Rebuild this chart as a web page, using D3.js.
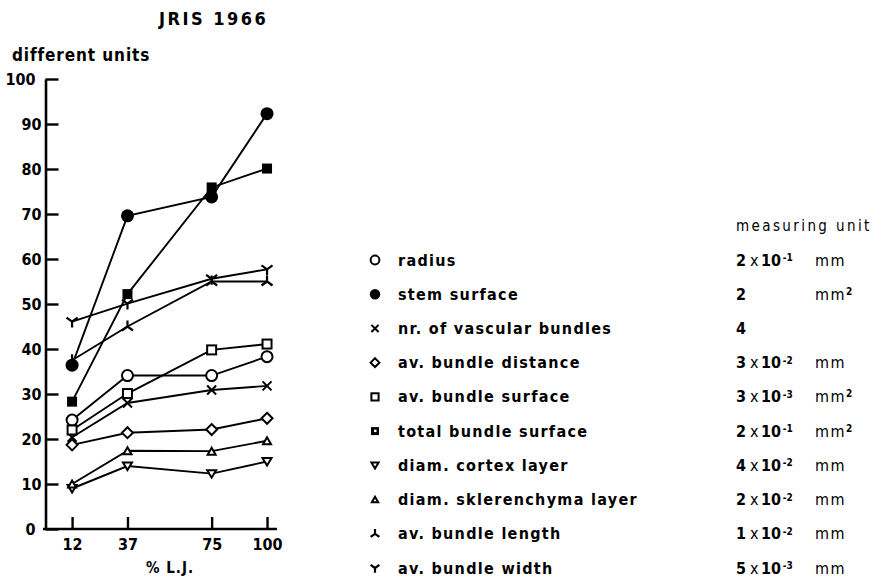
<!DOCTYPE html>
<html><head><meta charset="utf-8">
<script src="https://cdn.jsdelivr.net/npm/d3@7"></script>
<style>
body{margin:0;background:#fff;}
text{font-family:"DejaVu Sans Condensed","DejaVu Sans",sans-serif;fill:#000;}
</style></head>
<body><svg id="c" width="892" height="578"></svg>
<script>
const categories = [12, 37, 75, 100];
const xTicks = [12, 37, 75, 100];
const yTicks = [0, 10, 20, 30, 40, 50, 60, 70, 80, 90, 100];
const seriesNames = ["radius", "stem surface", "nr. of vascular bundles", "av. bundle distance",
  "av. bundle surface", "total bundle surface", "diam. cortex  layer", "diam. sklerenchyma layer",
  "av. bundle length", "av. bundle width"];
const seriesMarkers = ["circleOpen", "circleFilled", "cross", "diamond", "squareOpen", "squareFilled",
  "triDown", "triUp", "yInv", "yUp"];
const radius = [24.2, 34.1, 34.1, 38.3];
const stemSurface = [36.4, 69.6, 73.8, 92.3];
const nrVascular = [20.4, 28.0, 30.9, 31.8];
const bundleDistance = [18.7, 21.4, 22.1, 24.6];
const bundleSurface = [22.0, 30.1, 39.8, 41.1];
const totalBundleSurface = [28.3, 52.2, 75.9, 80.1];
const cortexLayer = [9.0, 14.0, 12.3, 15.0];
const sklerenchymaLayer = [10.0, 17.4, 17.3, 19.6];
const bundleLength = [37.5, 45.0, 55.0, 55.0];
const bundleWidth = [46.1, 50.1, 55.6, 57.7];
const seriesValues = [radius, stemSurface, nrVascular, bundleDistance, bundleSurface,
  totalBundleSurface, cortexLayer, sklerenchymaLayer, bundleLength, bundleWidth];
const unitCoef = ["2", "2", "4", "3", "3", "2", "4", "2", "1", "5"];
const unitExp = ["-1", "", "", "-2", "-3", "-1", "-2", "-2", "-2", "-3"];
const unitDim = ["mm", "mm", "", "mm", "mm", "mm", "mm", "mm", "mm", "mm"];
const unitDimExp = ["", "2", "", "", "2", "2", "", "", "", ""];

const svg = d3.select("#c");
const x = d3.scaleLinear().domain([0, 104.5]).range([45.5, 277]);
const y = d3.scaleLinear().domain([0, 100]).range([529, 79]);
const B = "bold", N = "normal";

// titles
svg.append("text").attr("x", 159).attr("y", 25).attr("font-size", 18).attr("letter-spacing", 2.5)
  .style("font-weight", B).text("JRIS  1966");
svg.append("text").attr("x", 12).attr("y", 61).attr("font-size", 17).attr("letter-spacing", 0.9)
  .style("font-weight", B).text("different units");

// y axis
const gy = svg.append("g").attr("transform", "translate(45.5,0)")
  .call(d3.axisLeft(y).tickValues(yTicks).tickSize(-13).tickSizeOuter(0).tickPadding(4));
gy.select(".domain").attr("stroke-width", 2.6);
gy.selectAll(".tick line").attr("stroke-width", 2.4);
gy.selectAll(".tick text").attr("font-size", 16).attr("font-family", null).style("font-weight", B)
  .attr("dx", d => (d === 0 || d === 100) ? -6 : 0);

// x axis
const gx = svg.append("g").attr("transform", "translate(0,529)")
  .call(d3.axisBottom(x).tickValues(xTicks).tickSize(-12).tickSizeOuter(0).tickPadding(10));
gx.select(".domain").attr("stroke-width", 2.6).attr("d", "M43,0H277");
gx.selectAll(".tick line").attr("stroke-width", 2.4);
gx.selectAll(".tick text").attr("font-size", 16).attr("font-family", null).style("font-weight", B);
svg.append("text").attr("x", 170).attr("y", 573).attr("text-anchor", "middle").attr("font-size", 15)
  .attr("letter-spacing", 1).style("font-weight", B).text("%  L.J.");

// marker drawer
function marker(g, type, s) {
  const sw = 2;
  switch (type) {
    case "circleOpen": g.append("circle").attr("r", 5.5 * s).attr("fill", "#fff").attr("stroke", "#000").attr("stroke-width", sw); break;
    case "circleFilled": g.append("circle").attr("r", 6.5 * s).attr("fill", "#000"); break;
    case "cross": g.append("path").attr("d", `M${-4.5*s},${-4.5*s}L${4.5*s},${4.5*s}M${-4.5*s},${4.5*s}L${4.5*s},${-4.5*s}`).attr("stroke", "#000").attr("stroke-width", sw).attr("fill", "none"); break;
    case "diamond": g.append("path").attr("d", `M0,${-5.5*s}L${5.5*s},0L0,${5.5*s}L${-5.5*s},0Z`).attr("fill", "#fff").attr("stroke", "#000").attr("stroke-width", sw); break;
    case "squareOpen": g.append("rect").attr("x", -4.5*s).attr("y", -4.5*s).attr("width", 9*s).attr("height", 9*s).attr("fill", "#fff").attr("stroke", "#000").attr("stroke-width", sw); break;
    case "squareFilled":
      g.append("rect").attr("x", -5*s).attr("y", -5*s).attr("width", 10*s).attr("height", 10*s).attr("fill", "#000");
      if (s < 1) g.append("rect").attr("x", -1).attr("y", -1.5).attr("width", 2.5).attr("height", 2.5).attr("fill", "#fff");
      break;
    case "triDown": g.append("path").attr("d", `M${-4.5*s},${-3.5*s}L${4.5*s},${-3.5*s}L0,${4*s}Z`).attr("fill", "#fff").attr("stroke", "#000").attr("stroke-width", sw); break;
    case "triUp": g.append("path").attr("d", `M${-4*s},${3.5*s}L${4*s},${3.5*s}L0,${-3.5*s}Z`).attr("fill", "#fff").attr("stroke", "#000").attr("stroke-width", sw); break;
    case "yInv": g.append("path").attr("d", `M0,${-6*s}L0,0M0,0L${-5.5*s},${4*s}M0,0L${5.5*s},${4*s}`).attr("stroke", "#000").attr("stroke-width", 2.2).attr("fill", "none"); break;
    case "yUp": g.append("path").attr("d", `M0,${6*s}L0,0M0,0L${-5.5*s},${-4*s}M0,0L${5.5*s},${-4*s}`).attr("stroke", "#000").attr("stroke-width", 2.2).attr("fill", "none"); break;
  }
}

// lines
const line = d3.line().x((d, i) => x(categories[i])).y(d => y(d));
svg.append("g").selectAll("path").data(seriesValues).join("path")
  .attr("d", line).attr("fill", "none").attr("stroke", "#000").attr("stroke-width", 1.9);

// markers
seriesValues.forEach((vals, si) => {
  vals.forEach((v, i) => {
    const g = svg.append("g").attr("transform", `translate(${x(categories[i])},${y(v)})`);
    marker(g, seriesMarkers[si], 1);
  });
});

// legend
const ly = d3.scalePoint().domain(seriesNames).range([260, 568]);
const lg = svg.append("g");
seriesNames.forEach((name, i) => {
  const g = lg.append("g").attr("transform", `translate(375,${ly(name)})`);
  marker(g, seriesMarkers[i], 0.8);
  lg.append("text").attr("x", 398).attr("y", ly(name)).attr("dy", "0.35em").attr("font-size", 16)
    .attr("letter-spacing", 1.3).style("font-weight", B).text(name);
  const t = lg.append("text").attr("y", ly(name)).attr("dy", "0.35em").attr("font-size", 16).style("font-weight", B);
  t.append("tspan").attr("x", 736).text(unitCoef[i]);
  if (unitExp[i]) {
    t.append("tspan").attr("x", 750).style("font-weight", N).text("x");
    t.append("tspan").attr("x", 761).text("10");
    t.append("tspan").attr("dy", "-0.45em").attr("font-size", 10).text("\u2009" + unitExp[i]);
  }
  if (unitDim[i]) {
    const d = lg.append("text").attr("x", 815).attr("y", ly(name)).attr("dy", "0.35em").attr("font-size", 16)
      .style("font-weight", N).attr("letter-spacing", 1.5);
    d.append("tspan").text(unitDim[i]);
    if (unitDimExp[i]) d.append("tspan").attr("dy", "-0.5em").attr("font-size", 10).style("font-weight", B).text(unitDimExp[i]);
  }
});
svg.append("text").attr("x", 736).attr("y", 226).attr("dy", "0.35em").attr("font-size", 15)
  .style("font-weight", N).attr("letter-spacing", 2.4).text("measuring  unit");
</script></body></html>
